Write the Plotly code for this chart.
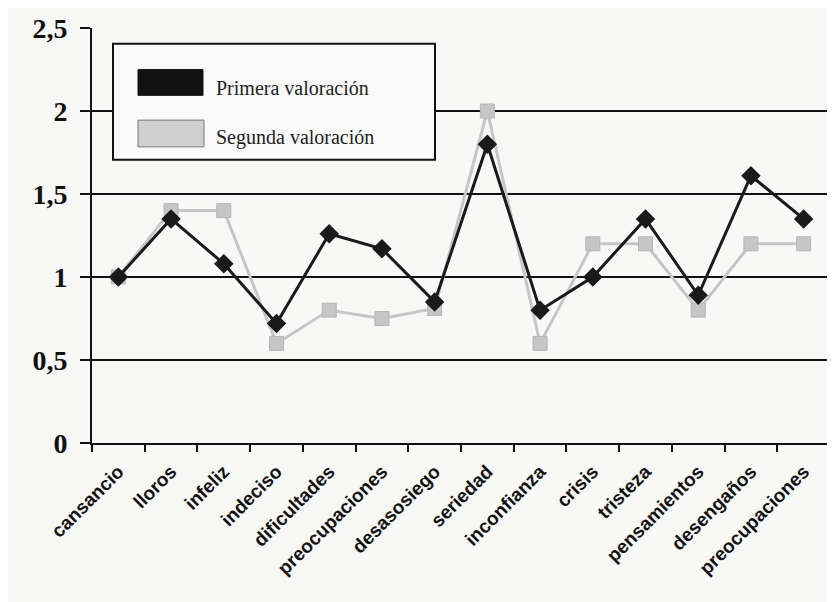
import plotly.graph_objects as go

categories = ["cansancio", "lloros", "infeliz", "indeciso", "dificultades",
              "preocupaciones", "desasosiego", "seriedad", "inconfianza",
              "crisis", "tristeza", "pensamientos", "desengaños", "preocupaciones"]
primera = [1.0, 1.35, 1.08, 0.72, 1.26, 1.17, 0.85, 1.80, 0.80, 1.0, 1.35, 0.89, 1.61, 1.35]
segunda = [1.0, 1.40, 1.40, 0.60, 0.80, 0.75, 0.81, 2.00, 0.60, 1.2, 1.20, 0.80, 1.20, 1.20]
y_ticks = [0, 0.5, 1, 1.5, 2, 2.5]
legend_names = ["Primera valoración", "Segunda valoración"]

OFF = 8  # page body margin
W, H = 835 - OFF, 602 - OFF
# plot area in window pixels: x 92..830, y 24..443
L, T = 92 - OFF, 24 - OFF
R = W - (830 - OFF)
B = H - (443 - OFF)
pw, ph = W - L - R, H - T - B

def px(x):
    return (x - OFF - L) / pw

def py(y):
    return (H - B - (y - OFF)) / ph

xs = list(range(len(categories)))
BLACK = "#1a1a1a"
GRAY = "#c6c6c6"

fig = go.Figure()
fig.add_trace(go.Scatter(x=xs, y=segunda, mode="lines+markers", name=legend_names[1],
                         line=dict(color=GRAY, width=3),
                         marker=dict(symbol="square", size=14, color=GRAY,
                                     line=dict(color="#b5b5b5", width=1))))
fig.add_trace(go.Scatter(x=xs, y=primera, mode="lines+markers", name=legend_names[0],
                         line=dict(color=BLACK, width=3),
                         marker=dict(symbol="diamond", size=15, color=BLACK)))

# manual legend (rectangular swatches)
shapes = [
    dict(type="rect", xref="paper", yref="paper", x0=px(113), x1=px(435), y0=py(157), y1=py(40),
         line=dict(color="#111", width=2), fillcolor="#fafafa", layer="above"),
    dict(type="rect", xref="paper", yref="paper", x0=px(138), x1=px(203), y0=py(92), y1=py(66),
         line=dict(color="#111", width=1), fillcolor="#111", layer="above"),
    dict(type="rect", xref="paper", yref="paper", x0=px(138), x1=px(204), y0=py(144), y1=py(117),
         line=dict(color="#777", width=1), fillcolor="#cfcfcf", layer="above"),
]
annotations = [
    dict(xref="paper", yref="paper", x=px(214), y=py(85), text=legend_names[0], showarrow=False,
         xanchor="left", yanchor="middle",
         font=dict(family="Liberation Serif", size=20, color="#222")),
    dict(xref="paper", yref="paper", x=px(214), y=py(135), text=legend_names[1], showarrow=False,
         xanchor="left", yanchor="middle",
         font=dict(family="Liberation Serif", size=20, color="#222")),
]

fig.update_layout(
    width=W, height=H,
    margin=dict(l=L, r=R, t=T, b=B),
    paper_bgcolor="#f8f8f7", plot_bgcolor="#f8f8f7",
    showlegend=False,
    separators=", ",
    shapes=shapes, annotations=annotations,
    xaxis=dict(range=[-0.5, len(categories) - 0.5], tickvals=xs, ticktext=categories,
               tickangle=-45, ticks="", showgrid=False, zeroline=False,
               showline=True, linecolor="#111", linewidth=2,
               ticklabelstandoff=8,
               tickfont=dict(family="Liberation Sans", size=19, color="#111", weight="bold"),
               minor=dict(ticks="outside", tick0=-0.5, dtick=1, ticklen=7,
                          tickcolor="#111", tickwidth=2, showgrid=False)),
    yaxis=dict(range=[0, 2.5], tickvals=y_ticks, ticks="outside", ticklen=10,
               tickcolor="#111", tickwidth=2, showgrid=True, gridcolor="#111", gridwidth=2,
               zeroline=False, showline=True, linecolor="#111", linewidth=2,
               ticklabelstandoff=7,
               tickfont=dict(family="Liberation Serif", size=28, color="#111", weight="bold")),
)

fig.write_html("out.html")
